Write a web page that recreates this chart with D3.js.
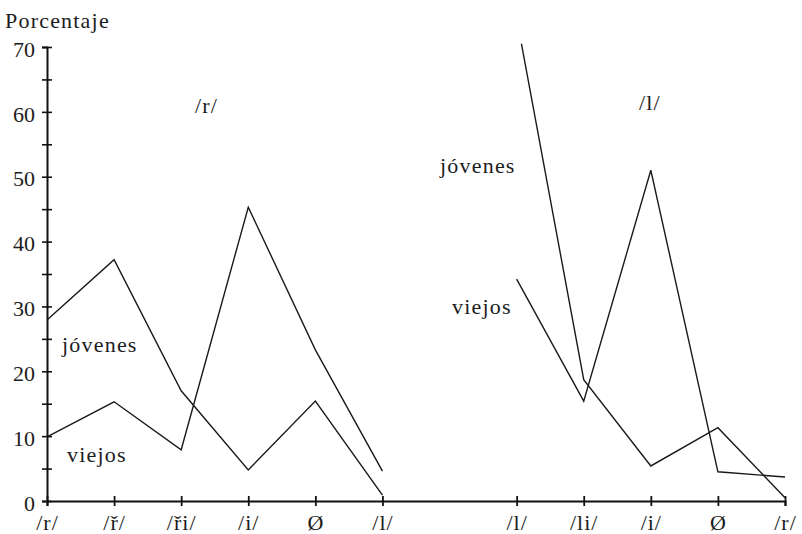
<!DOCTYPE html>
<html><head><meta charset="utf-8">
<script src="https://cdn.jsdelivr.net/npm/d3@7"></script>
<style>
body{margin:0;background:#fff}
</style>
</head><body>
<svg id="chart" width="802" height="534"></svg>
<script>
// ---- data ----
const leftCategories  = ["/r/", "/ř/", "/ři/", "/i/", "Ø", "/l/"];
const rightCategories = ["/l/", "/li/", "/i/", "Ø", "/r/"];
const leftJovenes  = [27.9, 37.2, 17.0, 4.8, 15.4, 0.9];
const leftViejos   = [9.9, 15.3, 7.9, 45.3, 23.3, 4.6];
const rightJovenes = [74.5, 18.7, 5.4, 11.3, 0.5];   // first value runs off the top of the chart
const rightViejos  = [34.2, 15.4, 51.0, 4.5, 3.7];
const yTicks      = [0, 5, 10, 15, 20, 25, 30, 35, 40, 45, 50, 55, 60, 65, 70];
const yTickLabels = [0, 10, 20, 30, 40, 50, 60, 70];
const yTitle = "Porcentaje";
const panelTitles = ["/r/", "/l/"];
const seriesNames = ["jóvenes", "viejos"];

// ---- layout ----
const FONT = "'Liberation Serif', 'DejaVu Serif', serif";
const svg = d3.select("#chart");
const W = 802, H = 534;
const leftKeys  = leftCategories.map((c, i) => "L" + i);
const rightKeys = rightCategories.map((c, i) => "R" + i);
const allKeys = [...leftKeys, "gap", ...rightKeys];
const labelOf = {};
leftKeys.forEach((k, i) => labelOf[k] = leftCategories[i]);
rightKeys.forEach((k, i) => labelOf[k] = rightCategories[i]);

const x = d3.scalePoint().domain(allKeys).range([47, 785]).padding(0);
const y = d3.scaleLinear().domain([0, 70]).range([501, 47]);

svg.append("defs").append("clipPath").attr("id", "plotclip")
  .append("rect").attr("x", 0).attr("y", y(70.5)).attr("width", W).attr("height", H);

// ---- axes ----
const fs = 22;
const yAxis = svg.append("g").attr("transform", `translate(${x("L0")},0)`)
  .call(d3.axisLeft(y).tickValues(yTicks).tickSizeOuter(0).tickSize(5)
        .tickFormat(d => yTickLabels.includes(d) ? d : ""));
yAxis.attr("font-family", null).attr("font-size", null);
yAxis.select(".domain").attr("stroke", "#111").attr("stroke-width", 2);
yAxis.selectAll(".tick line").attr("x1", 5).attr("x2", -5).attr("stroke", "#111").attr("stroke-width", 1.6);
yAxis.selectAll(".tick text").attr("x", -12).attr("dy", "0.42em")
  .style("font-family", FONT).style("font-size", fs + "px").attr("fill", "#1c1c1c");

const xAxis = svg.append("g").attr("transform", `translate(0,${y(0)})`)
  .call(d3.axisBottom(x).tickValues([...leftKeys, ...rightKeys]).tickSizeOuter(0).tickSize(5)
        .tickFormat(k => labelOf[k]));
xAxis.attr("font-family", null).attr("font-size", null);
xAxis.select(".domain").attr("stroke", "#111").attr("stroke-width", 2);
xAxis.selectAll(".tick line").attr("y1", -5).attr("y2", 5).attr("stroke", "#111").attr("stroke-width", 1.8);
xAxis.selectAll(".tick text").attr("y", 13)
  .style("font-family", FONT).style("font-size", fs + "px").attr("fill", "#1c1c1c")
  .style("letter-spacing", "1px");

// ---- lines ----
const line = d3.line().x(d => x(d.k)).y(d => y(d.v));
const series = [
  leftKeys.map((k, i) => ({k, v: leftJovenes[i]})),
  leftKeys.map((k, i) => ({k, v: leftViejos[i]})),
  rightKeys.map((k, i) => ({k, v: rightJovenes[i]})),
  rightKeys.map((k, i) => ({k, v: rightViejos[i]}))
];
svg.append("g").attr("clip-path", "url(#plotclip)")
  .selectAll("path").data(series).join("path")
  .attr("d", line).attr("fill", "none").attr("stroke", "#1a1a1a")
  .attr("stroke-width", 1.4).attr("stroke-linejoin", "miter");

// ---- texts ----
function label(t, px, py) {
  svg.append("text").attr("x", px).attr("y", py).text(t)
    .style("font-family", FONT).style("font-size", fs + "px")
    .style("letter-spacing", "1.2px").attr("fill", "#1c1c1c");
}
label(yTitle, 5, 28);
label(panelTitles[0], 195, 113);
label(panelTitles[1], 639, 110);
label(seriesNames[0], 62, 352);
label(seriesNames[1], 67, 462);
label(seriesNames[0], 440, 173);
label(seriesNames[1], 452, 314);
</script>
</body></html>
